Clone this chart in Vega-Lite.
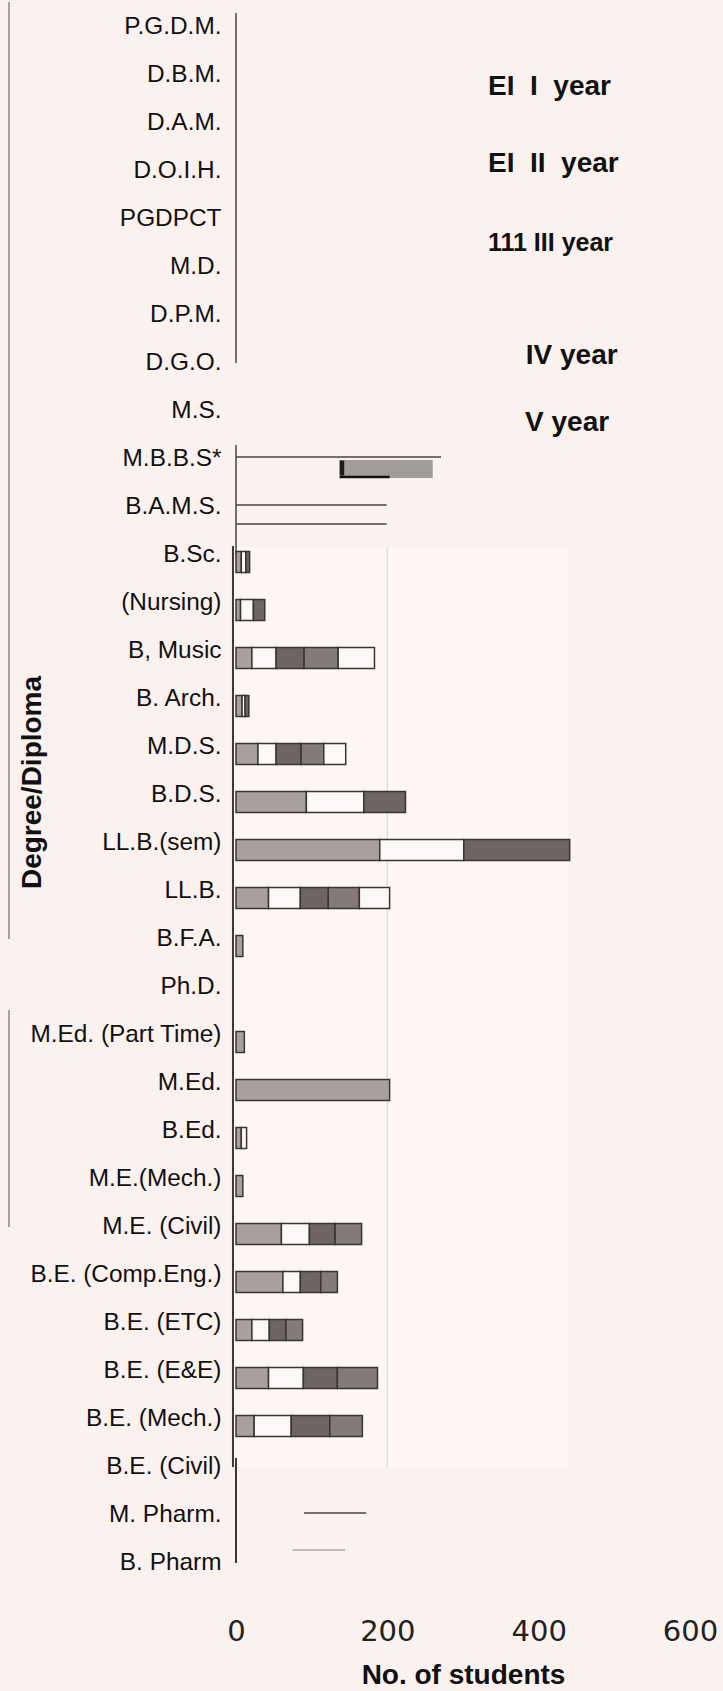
{
  "$schema": "https://vega.github.io/schema/vega-lite/v6.json",
  "width": 454,
  "height": 1584,
  "autosize": {"type": "none"},
  "padding": {"left": 236, "top": 3, "right": 33, "bottom": 104},
  "background": "#fbf1ef",
  "config": {"view": {"stroke": null}, "font": "Liberation Sans"},
  "datasets": {
    "bars": [
      {"deg": "B.Sc.", "yr": "I year", "v": 7}, {"deg": "B.Sc.", "yr": "II year", "v": 6}, {"deg": "B.Sc.", "yr": "III year", "v": 5},
      {"deg": "(Nursing)", "yr": "I year", "v": 6}, {"deg": "(Nursing)", "yr": "II year", "v": 17}, {"deg": "(Nursing)", "yr": "III year", "v": 15},
      {"deg": "B, Music", "yr": "I year", "v": 21}, {"deg": "B, Music", "yr": "II year", "v": 32}, {"deg": "B, Music", "yr": "III year", "v": 37}, {"deg": "B, Music", "yr": "IV year", "v": 45}, {"deg": "B, Music", "yr": "V year", "v": 48},
      {"deg": "B. Arch.", "yr": "I year", "v": 8}, {"deg": "B. Arch.", "yr": "II year", "v": 4}, {"deg": "B. Arch.", "yr": "III year", "v": 5},
      {"deg": "M.D.S.", "yr": "I year", "v": 29}, {"deg": "M.D.S.", "yr": "II year", "v": 24}, {"deg": "M.D.S.", "yr": "III year", "v": 33}, {"deg": "M.D.S.", "yr": "IV year", "v": 30}, {"deg": "M.D.S.", "yr": "V year", "v": 29},
      {"deg": "B.D.S.", "yr": "I year", "v": 93}, {"deg": "B.D.S.", "yr": "II year", "v": 76}, {"deg": "B.D.S.", "yr": "III year", "v": 55},
      {"deg": "LL.B.(sem)", "yr": "I year", "v": 190}, {"deg": "LL.B.(sem)", "yr": "II year", "v": 111}, {"deg": "LL.B.(sem)", "yr": "III year", "v": 140},
      {"deg": "LL.B.", "yr": "I year", "v": 43}, {"deg": "LL.B.", "yr": "II year", "v": 42}, {"deg": "LL.B.", "yr": "III year", "v": 37}, {"deg": "LL.B.", "yr": "IV year", "v": 41}, {"deg": "LL.B.", "yr": "V year", "v": 40},
      {"deg": "B.F.A.", "yr": "I year", "v": 9},
      {"deg": "M.Ed. (Part Time)", "yr": "I year", "v": 11},
      {"deg": "M.Ed.", "yr": "I year", "v": 203},
      {"deg": "B.Ed.", "yr": "I year", "v": 7}, {"deg": "B.Ed.", "yr": "II year", "v": 7},
      {"deg": "M.E.(Mech.)", "yr": "I year", "v": 9},
      {"deg": "M.E. (Civil)", "yr": "I year", "v": 60}, {"deg": "M.E. (Civil)", "yr": "II year", "v": 37}, {"deg": "M.E. (Civil)", "yr": "III year", "v": 34}, {"deg": "M.E. (Civil)", "yr": "IV year", "v": 35},
      {"deg": "B.E. (Comp.Eng.)", "yr": "I year", "v": 62}, {"deg": "B.E. (Comp.Eng.)", "yr": "II year", "v": 23}, {"deg": "B.E. (Comp.Eng.)", "yr": "III year", "v": 27}, {"deg": "B.E. (Comp.Eng.)", "yr": "IV year", "v": 22},
      {"deg": "B.E. (ETC)", "yr": "I year", "v": 21}, {"deg": "B.E. (ETC)", "yr": "II year", "v": 23}, {"deg": "B.E. (ETC)", "yr": "III year", "v": 22}, {"deg": "B.E. (ETC)", "yr": "IV year", "v": 22},
      {"deg": "B.E. (E&E)", "yr": "I year", "v": 43}, {"deg": "B.E. (E&E)", "yr": "II year", "v": 46}, {"deg": "B.E. (E&E)", "yr": "III year", "v": 45}, {"deg": "B.E. (E&E)", "yr": "IV year", "v": 53},
      {"deg": "B.E. (Mech.)", "yr": "I year", "v": 24}, {"deg": "B.E. (Mech.)", "yr": "II year", "v": 49}, {"deg": "B.E. (Mech.)", "yr": "III year", "v": 51}, {"deg": "B.E. (Mech.)", "yr": "IV year", "v": 43}
    ]
  },
  "encoding": {
    "x": {
      "field": "v",
      "type": "quantitative",
      "scale": {"domain": [0, 600], "nice": false},
      "axis": {
        "values": [0, 200, 400, 600],
        "title": "No. of students",
        "titleFont": "Liberation Sans",
        "titleFontSize": 28,
        "titleFontWeight": "bold",
        "titleColor": "#111111",
        "titleBaseline": "middle",
        "titleY": 88,
        "labelFont": "DejaVu Sans",
        "labelFontSize": 29,
        "labelColor": "#222222",
        "labelFlush": false,
        "labelBaseline": "middle",
        "labelPadding": 44,
        "ticks": false,
        "tickSize": 0,
        "domain": false,
        "grid": false
      }
    },
    "y": {
      "field": "deg",
      "type": "nominal",
      "sort": ["P.G.D.M.","D.B.M.","D.A.M.","D.O.I.H.","PGDPCT","M.D.","D.P.M.","D.G.O.","M.S.","M.B.B.S*","B.A.M.S.","B.Sc.","(Nursing)","B, Music","B. Arch.","M.D.S.","B.D.S.","LL.B.(sem)","LL.B.","B.F.A.","Ph.D.","M.Ed. (Part Time)","M.Ed.","B.Ed.","M.E.(Mech.)","M.E. (Civil)","B.E. (Comp.Eng.)","B.E. (ETC)","B.E. (E&E)","B.E. (Mech.)","B.E. (Civil)","M. Pharm.","B. Pharm"],
      "scale": {
        "domain": ["P.G.D.M.","D.B.M.","D.A.M.","D.O.I.H.","PGDPCT","M.D.","D.P.M.","D.G.O.","M.S.","M.B.B.S*","B.A.M.S.","B.Sc.","(Nursing)","B, Music","B. Arch.","M.D.S.","B.D.S.","LL.B.(sem)","LL.B.","B.F.A.","Ph.D.","M.Ed. (Part Time)","M.Ed.","B.Ed.","M.E.(Mech.)","M.E. (Civil)","B.E. (Comp.Eng.)","B.E. (ETC)","B.E. (E&E)","B.E. (Mech.)","B.E. (Civil)","M. Pharm.","B. Pharm"],
        "paddingInner": 0,
        "paddingOuter": 0
      },
      "axis": {
        "title": "Degree/Diploma",
        "titleFont": "Liberation Sans",
        "titleFontSize": 28,
        "titleFontWeight": "bold",
        "titleColor": "#111111",
        "titleAngle": -90,
        "titleX": -204,
        "titleY": 779,
        "titleAlign": "center",
        "titleBaseline": "middle",
        "labelFont": "Liberation Sans",
        "labelFontSize": 24.4,
        "labelColor": "#111111",
        "labelPadding": 15,
        "labelLimit": 300,
        "ticks": false,
        "domain": false,
        "grid": false
      }
    }
  },
  "layer": [
    {
      "data": {"values": [{"deg": "B.Sc.", "deg2": "B.E. (Civil)", "v": -4, "v2": 439}]},
      "mark": {"type": "rect", "color": "#fdf6f5", "yOffset": -8},
      "encoding": {"x2": {"field": "v2"}, "y2": {"field": "deg2"}}
    },
    {
      "data": {"values": [{"deg": "B.Sc.", "deg2": "B.E. (Civil)", "v": 200}]},
      "mark": {"type": "rule", "color": "#e6dada", "strokeWidth": 1.5, "yOffset": -8},
      "encoding": {"y2": {"field": "deg2"}}
    },
    {
      "data": {"values": [{"deg": "P.G.D.M.", "deg2": "B.F.A.", "v": -300}, {"deg": "M.Ed. (Part Time)", "deg2": "M.E. (Civil)", "v": -300}]},
      "mark": {"type": "rule", "color": "#a9a1a0", "strokeWidth": 2, "yOffset": -25},
      "encoding": {"y2": {"field": "deg2"}}
    },
    {
      "data": {"values": [{"deg": "P.G.D.M.", "deg2": "D.G.O.", "v": 0}, {"deg": "M.B.B.S*", "deg2": "B.Sc.", "v": 0}]},
      "mark": {"type": "rule", "color": "#4a4040", "strokeWidth": 1.5, "yOffset": -14},
      "encoding": {"y2": {"field": "deg2"}}
    },
    {
      "data": {"values": [{"deg": "B.Sc.", "deg2": "B.E. (Civil)", "v": -4}, {"deg": "B.E. (Civil)", "deg2": "B. Pharm", "v": 0}]},
      "mark": {"type": "rule", "color": "#3f3636", "strokeWidth": 2, "yOffset": -9},
      "encoding": {"y2": {"field": "deg2"}}
    },
    {
      "data": {"name": "bars"},
      "mark": {"type": "bar", "size": 21, "yOffset": 7, "stroke": "#3d3432", "strokeWidth": 1.5},
      "encoding": {
        "color": {
          "field": "yr",
          "type": "nominal",
          "scale": {"domain": ["I year", "II year", "III year", "IV year", "V year"], "range": ["#a8a09d", "#fbf8f7", "#6e6461", "#847a77", "#fbf8f7"]},
          "legend": null
        },
        "order": {"field": "yr", "sort": "ascending"}
      }
    },
    {
      "data": {"values": [{"deg": "M.B.B.S*", "v": 0, "v2": 271}, {"deg": "B.A.M.S.", "v": 0, "v2": 199}, {"deg": "M. Pharm.", "v": 90, "v2": 172}]},
      "mark": {"type": "rule", "color": "#4a4040", "strokeWidth": 1.6, "yOffset": -2},
      "encoding": {"x2": {"field": "v2"}}
    },
    {
      "data": {"values": [{"deg": "B.A.M.S.", "v": 0, "v2": 199}]},
      "mark": {"type": "rule", "color": "#4a4040", "strokeWidth": 1.6, "yOffset": 17},
      "encoding": {"x2": {"field": "v2"}}
    },
    {
      "data": {"values": [{"deg": "B. Pharm", "v": 75, "v2": 144}]},
      "mark": {"type": "rule", "color": "#8a8080", "strokeWidth": 1, "yOffset": -13},
      "encoding": {"x2": {"field": "v2"}}
    },
    {
      "data": {"values": [{"deg": "M.B.B.S*", "v": 137, "v2": 260}]},
      "mark": {"type": "bar", "size": 18, "yOffset": 10, "color": "#a19b99"},
      "encoding": {"x2": {"field": "v2"}}
    },
    {
      "data": {"values": [{"deg": "M.B.B.S*", "v": 137, "v2": 203}]},
      "mark": {"type": "rule", "color": "#111111", "strokeWidth": 2.5, "yOffset": 18},
      "encoding": {"x2": {"field": "v2"}}
    },
    {
      "data": {"values": [{"deg": "M.B.B.S*", "v": 137, "v2": 143}]},
      "mark": {"type": "bar", "size": 15, "yOffset": 9, "color": "#1a1a1a"},
      "encoding": {"x2": {"field": "v2"}}
    },
    {
      "data": {"values": [{"deg": "D.B.M.", "v": 333, "label": "EI\u00a0 I\u00a0 year"}, {"deg": "M.S.", "v": 382, "label": "V year"}]},
      "mark": {"type": "text", "align": "left", "baseline": "middle", "dy": 12, "font": "Liberation Sans", "fontSize": 28, "fontWeight": "bold", "color": "#111111"},
      "encoding": {"text": {"field": "label"}}
    },
    {
      "data": {"values": [{"deg": "D.O.I.H.", "v": 333, "label": "EI\u00a0 II\u00a0 year"}, {"deg": "D.G.O.", "v": 383, "label": "IV year"}]},
      "mark": {"type": "text", "align": "left", "baseline": "middle", "dy": -7, "font": "Liberation Sans", "fontSize": 28, "fontWeight": "bold", "color": "#111111"},
      "encoding": {"text": {"field": "label"}}
    },
    {
      "data": {"values": [{"deg": "PGDPCT", "v": 333, "label": "111 III year"}]},
      "mark": {"type": "text", "align": "left", "baseline": "middle", "dy": 24, "font": "Liberation Sans", "fontSize": 25, "fontWeight": "bold", "color": "#111111"},
      "encoding": {"text": {"field": "label"}}
    }
  ]
}
